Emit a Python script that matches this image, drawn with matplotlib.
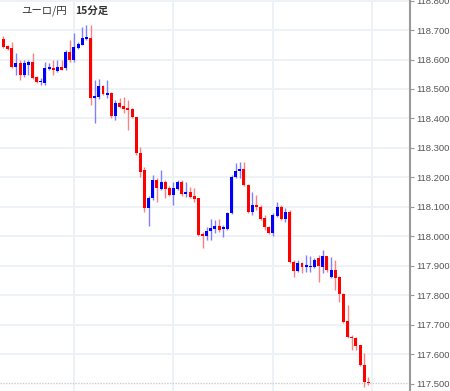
import numpy as np
import matplotlib
matplotlib.use("Agg")
import matplotlib.pyplot as plt

plt.rcParams['font.family'] = ['Noto Sans CJK JP', 'DejaVu Sans']

# 15-minute EUR/JPY candles
opens = [118.670, 118.646, 118.639, 118.575, 118.588, 118.547, 118.581, 118.592, 118.541, 118.524,
         118.520, 118.568, 118.571, 118.561, 118.575, 118.571, 118.626, 118.598, 118.639, 118.649,
         118.670, 118.673, 118.469, 118.473, 118.510, 118.480, 118.486, 118.408, 118.452, 118.442,
         118.435, 118.432, 118.405, 118.283, 118.225, 118.096, 118.130, 118.191, 118.161, 118.184,
         118.164, 118.140, 118.161, 118.184, 118.144, 118.150, 118.137, 118.130, 118.008, 118.001,
         118.018, 118.025, 118.035, 118.025, 118.025, 118.079, 118.201, 118.222, 118.228, 118.174,
         118.082, 118.106, 118.099, 118.062, 118.032, 118.011, 118.069, 118.099, 118.059, 118.082,
         117.913, 117.882, 117.909, 117.896, 117.896, 117.896, 117.926, 117.896, 117.933, 117.862,
         117.886, 117.862, 117.804, 117.713, 117.658, 117.655, 117.631, 117.563, 117.505]
highs = [118.680, 118.649, 118.659, 118.622, 118.598, 118.598, 118.598, 118.622, 118.544, 118.537,
         118.592, 118.588, 118.598, 118.598, 118.598, 118.632, 118.666, 118.690, 118.659, 118.710,
         118.717, 118.717, 118.530, 118.534, 118.514, 118.530, 118.490, 118.463, 118.469, 118.473,
         118.463, 118.435, 118.405, 118.303, 118.235, 118.137, 118.208, 118.198, 118.225, 118.191,
         118.171, 118.184, 118.191, 118.191, 118.184, 118.167, 118.164, 118.130, 118.015, 118.032,
         118.059, 118.055, 118.059, 118.038, 118.082, 118.208, 118.249, 118.252, 118.252, 118.177,
         118.150, 118.140, 118.106, 118.072, 118.035, 118.079, 118.116, 118.106, 118.096, 118.089,
         117.920, 117.920, 117.913, 117.937, 117.933, 117.926, 117.937, 117.953, 117.933, 117.930,
         117.920, 117.865, 117.808, 117.767, 117.665, 117.658, 117.631, 117.604, 117.522]
lows = [118.639, 118.632, 118.571, 118.547, 118.530, 118.541, 118.547, 118.534, 118.520, 118.514,
        118.514, 118.564, 118.547, 118.558, 118.564, 118.564, 118.592, 118.592, 118.636, 118.649,
        118.666, 118.446, 118.385, 118.466, 118.480, 118.469, 118.402, 118.395, 118.435, 118.418,
        118.361, 118.402, 118.276, 118.201, 118.082, 118.035, 118.123, 118.116, 118.157, 118.130,
        118.137, 118.106, 118.157, 118.137, 118.133, 118.130, 118.116, 118.001, 117.960, 117.987,
        117.987, 118.011, 118.015, 117.998, 118.021, 118.076, 118.198, 118.198, 118.171, 118.079,
        118.072, 118.089, 118.055, 118.021, 118.008, 118.001, 118.066, 118.055, 118.049, 117.909,
        117.862, 117.879, 117.875, 117.879, 117.879, 117.892, 117.845, 117.875, 117.879, 117.858,
        117.818, 117.777, 117.706, 117.655, 117.614, 117.614, 117.560, 117.489, 117.495]
closes = [118.642, 118.636, 118.575, 118.588, 118.547, 118.588, 118.592, 118.537, 118.524, 118.527,
          118.571, 118.575, 118.564, 118.575, 118.564, 118.626, 118.598, 118.642, 118.653, 118.673,
          118.676, 118.469, 118.476, 118.510, 118.483, 118.486, 118.408, 118.452, 118.439, 118.432,
          118.429, 118.405, 118.283, 118.218, 118.096, 118.130, 118.191, 118.164, 118.184, 118.161,
          118.140, 118.164, 118.184, 118.144, 118.150, 118.133, 118.127, 118.004, 118.001, 118.018,
          118.028, 118.035, 118.021, 118.032, 118.079, 118.201, 118.222, 118.228, 118.174, 118.082,
          118.106, 118.099, 118.059, 118.032, 118.011, 118.072, 118.099, 118.059, 118.082, 117.913,
          117.882, 117.909, 117.896, 117.903, 117.899, 117.920, 117.899, 117.933, 117.886, 117.886,
          117.858, 117.804, 117.709, 117.658, 117.655, 117.628, 117.563, 117.505, 117.502]

yticks = [117.5, 117.6, 117.7, 117.8, 117.9, 118.0, 118.1, 118.2, 118.3, 118.4, 118.5, 118.6, 118.7, 118.8]
vgrid = [17, 41, 65, 89]

opens = np.array(opens)
closes = np.array(closes)
highs = np.array(highs)
lows = np.array(lows)
x = np.arange(len(opens))
up = closes >= opens

fig = plt.figure(figsize=(4.5, 3.91), dpi=100)
ax = fig.add_axes([0, 0, 410 / 450, 1])

# grid
for t in yticks[1:]:
    ax.axhline(t, color="#edf2f7", lw=1.4, zorder=0)
for v in vgrid:
    ax.axvline(v, color="#edf2f7", lw=1.4, zorder=0)
ax.axhline(closes[-1], color="#c8ccd4", lw=1.0, ls=(0, (1, 1)), zorder=0.5)

# wicks
wick_col = np.where(up, "#8080ff", "#ff8080")
ax.vlines(x, lows, highs, colors=wick_col, lw=1.0, zorder=1)

# bodies
body_col = np.where(up, "#0000ff", "#ff0000")
bottom = np.minimum(opens, closes)
height = np.maximum(np.abs(closes - opens), 0.004)
ax.bar(x, height, bottom=bottom, width=0.72, color=body_col, linewidth=0, zorder=2)

ax.set_xlim(-0.844, 98.05)
ax.set_ylim(117.475, 118.802)

ax.yaxis.tick_right()
ax.set_yticks(yticks)
ax.set_yticklabels(["%.3f" % t for t in yticks], family="Liberation Sans")
ax.tick_params(axis="y", direction="out", length=3, width=0.8, color="#999999",
               labelsize=6.8, labelcolor="#555555", pad=1.2)
ax.set_xticks([])
for s in ["top", "bottom", "left"]:
    ax.spines[s].set_visible(False)
ax.spines["right"].set_color("#9a9a9a")
ax.spines["right"].set_linewidth(1.5)

ax.text(21 / 410, 1 - 11 / 391, "ユーロ/円", transform=ax.transAxes, fontsize=7.5,
        color="#333333", va="center", ha="left")
ax.text(75 / 410, 1 - 11 / 391, "15分足", transform=ax.transAxes, fontsize=7.5,
        color="#333333", va="center", ha="left", fontweight="bold")

fig.savefig("out.png", dpi=100)
